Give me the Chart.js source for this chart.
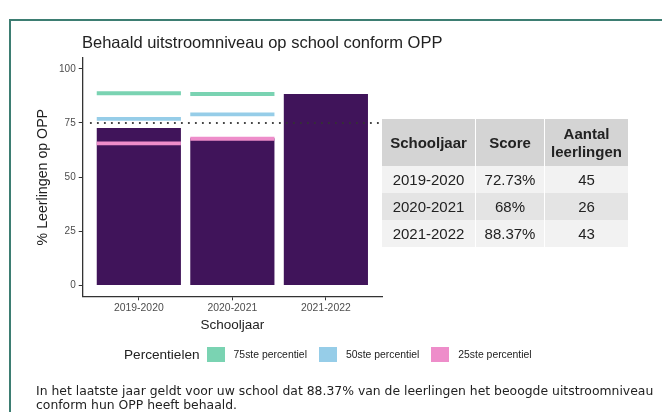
<!DOCTYPE html>
<html>
<head>
<meta charset="utf-8">
<script src="https://cdn.jsdelivr.net/npm/chart.js@4"></script>
<style>
  html, body { margin:0; padding:0; background:#fff; }
  body { width:662px; height:412px; position:relative; overflow:hidden; font-family:"Liberation Sans", Arial, sans-serif; color:#222; }
  #frame { position:absolute; left:9px; top:19px; width:700px; height:450px; border-left:2px solid #3d7d72; border-top:2px solid #3d7d72; }
  #chartWrap { position:absolute; left:0; top:0; width:662px; height:412px; }
  #title { position:absolute; left:82px; top:33px; font-size:16.5px; color:#222; white-space:nowrap; }
  #tbl { position:absolute; left:382px; top:119px; border-collapse:collapse; font-size:15px; color:#222; }
  #tbl th, #tbl td { padding:0; text-align:center; border-left:1px solid #fff; }
  #tbl th:first-child, #tbl td:first-child { border-left:none; }
  #tbl th { background:#d4d4d4; font-weight:bold; height:47px; line-height:18px; }
  #tbl td { height:27px; }
  #tbl tr.odd td { background:#f2f2f2; }
  #tbl tr.even td { background:#e4e4e4; }
  #legend { position:absolute; left:124px; top:347px; display:flex; align-items:center; white-space:nowrap; }
  #legend .lt { font-size:13.6px; color:#222; margin-right:7px; }
  #legend .sw { width:18px; height:15px; margin-right:9px; }
  #legend .lb { font-size:10.4px; color:#222; margin-right:12px; }
  #note { position:absolute; left:36px; top:384px; font-family:"DejaVu Sans", Verdana, sans-serif; font-size:12.4px; line-height:14px; color:#222; white-space:nowrap; }
</style>
</head>
<body>
<div id="frame"></div>
<div id="chartWrap"><canvas id="c" width="662" height="412"></canvas></div>
<div id="title">Behaald uitstroomniveau op school conform OPP</div>
<table id="tbl"></table>
<div id="legend"></div>
<div id="note">In het laatste jaar geldt voor uw school dat 88.37% van de leerlingen het beoogde uitstroomniveau<br>conform hun OPP heeft behaald.</div>
<script>
// ---- data ----
const categories = ["2019-2020", "2020-2021", "2021-2022"];
const scores = [72.73, 68, 88.37];
const p75 = [88.7, 88.4, null];
const p50 = [76.9, 79.0, null];
const p25 = [65.6, 67.7, null];
const aantal = [45, 26, 43];
const scoreLabels = ["72.73%", "68%", "88.37%"];
const yTicks = [0, 25, 50, 75, 100];
const referenceValue = 75;
const percentileNames = ["75ste percentiel", "50ste percentiel", "25ste percentiel"];
const percentileColors = ["#7ad3b2", "#96cde8", "#ee8dca"];

// ---- table ----
const tbl = document.getElementById('tbl');
let html = '<tr><th style="width:93px">Schooljaar</th><th style="width:68px">Score</th><th style="width:83px">Aantal<br>leerlingen</th></tr>';
categories.forEach((c, i) => {
  html += `<tr class="${i % 2 === 0 ? 'odd' : 'even'}"><td>${c}</td><td>${scoreLabels[i]}</td><td>${aantal[i]}</td></tr>`;
});
tbl.innerHTML = html;

// ---- legend ----
const lg = document.getElementById('legend');
let lh = '<span class="lt">Percentielen</span>';
percentileNames.forEach((n, i) => {
  lh += `<span class="sw" style="background:${percentileColors[i]}"></span><span class="lb">${n}</span>`;
});
lg.innerHTML = lh;

// ---- chart ----
const thick = 0.9;
const pts = arr => arr.map((v, i) => ({ x: i + 1, y: v }));
const seg = arr => arr.map((v, i) => v == null ? { x: i + 1, y: null } : { x: i + 1, y: [v - thick, v + thick] });

const refLine = {
  id: 'refLine',
  afterDatasetsDraw(chart) {
    const { ctx, chartArea, scales } = chart;
    const y = scales.y.getPixelForValue(referenceValue);
    ctx.save();
    ctx.strokeStyle = '#333';
    ctx.lineWidth = 1.8;
    ctx.lineCap = 'round';
    ctx.setLineDash([0.3, 6.7]);
    ctx.beginPath();
    ctx.moveTo(chartArea.left + 8, y);
    ctx.lineTo(chartArea.right, y);
    ctx.stroke();
    ctx.restore();
  }
};

new Chart(document.getElementById('c'), {
  type: 'bar',
  data: {
    datasets: [
      { label: percentileNames[0], data: seg(p75), backgroundColor: percentileColors[0], order: 1 },
      { label: percentileNames[1], data: seg(p50), backgroundColor: percentileColors[1], order: 1 },
      { label: percentileNames[2], data: seg(p25), backgroundColor: percentileColors[2], order: 1 },
      { label: 'Score', data: pts(scores), backgroundColor: '#40145a', order: 2 }
    ]
  },
  options: {
    responsive: false,
    animation: false,
    devicePixelRatio: 1,
    layout: { padding: { left: 31, top: 58, right: 280, bottom: 79 } },
    datasets: { bar: { grouped: false, categoryPercentage: 1, barPercentage: 0.9 } },
    plugins: { legend: { display: false }, tooltip: { enabled: false } },
    scales: {
      x: {
        type: 'linear',
        min: 0.4, max: 3.6,
        offset: false,
        afterBuildTicks(s) { s.ticks = categories.map((c, i) => ({ value: i + 1 })); },
        grid: { offset: false, drawOnChartArea: false, drawTicks: true, tickLength: 4, tickColor: '#333' },
        border: { display: true, color: '#333', width: 1.3 },
        ticks: { color: '#4d4d4d', font: { size: 10.4, family: 'Liberation Sans' }, padding: 2,
                 callback: v => categories[Math.round(v) - 1] },
        title: { display: true, text: 'Schooljaar', color: '#222', font: { size: 13.5, family: 'Liberation Sans' }, padding: { top: 0, bottom: 0 } }
      },
      y: {
        min: -5, max: 105,
        afterBuildTicks(s) { s.ticks = yTicks.map(v => ({ value: v })); },
        grid: { drawOnChartArea: false, drawTicks: true, tickLength: 4, tickColor: '#333' },
        border: { display: true, color: '#333', width: 1.3 },
        ticks: { color: '#4d4d4d', font: { size: 10, family: 'Liberation Sans' }, padding: 3 },
        title: { display: true, text: '% Leerlingen op OPP', color: '#222', font: { size: 14.2, family: 'Liberation Sans' }, padding: { top: 4, bottom: 4 } }
      }
    }
  },
  plugins: [refLine]
});
</script>
</body>
</html>
